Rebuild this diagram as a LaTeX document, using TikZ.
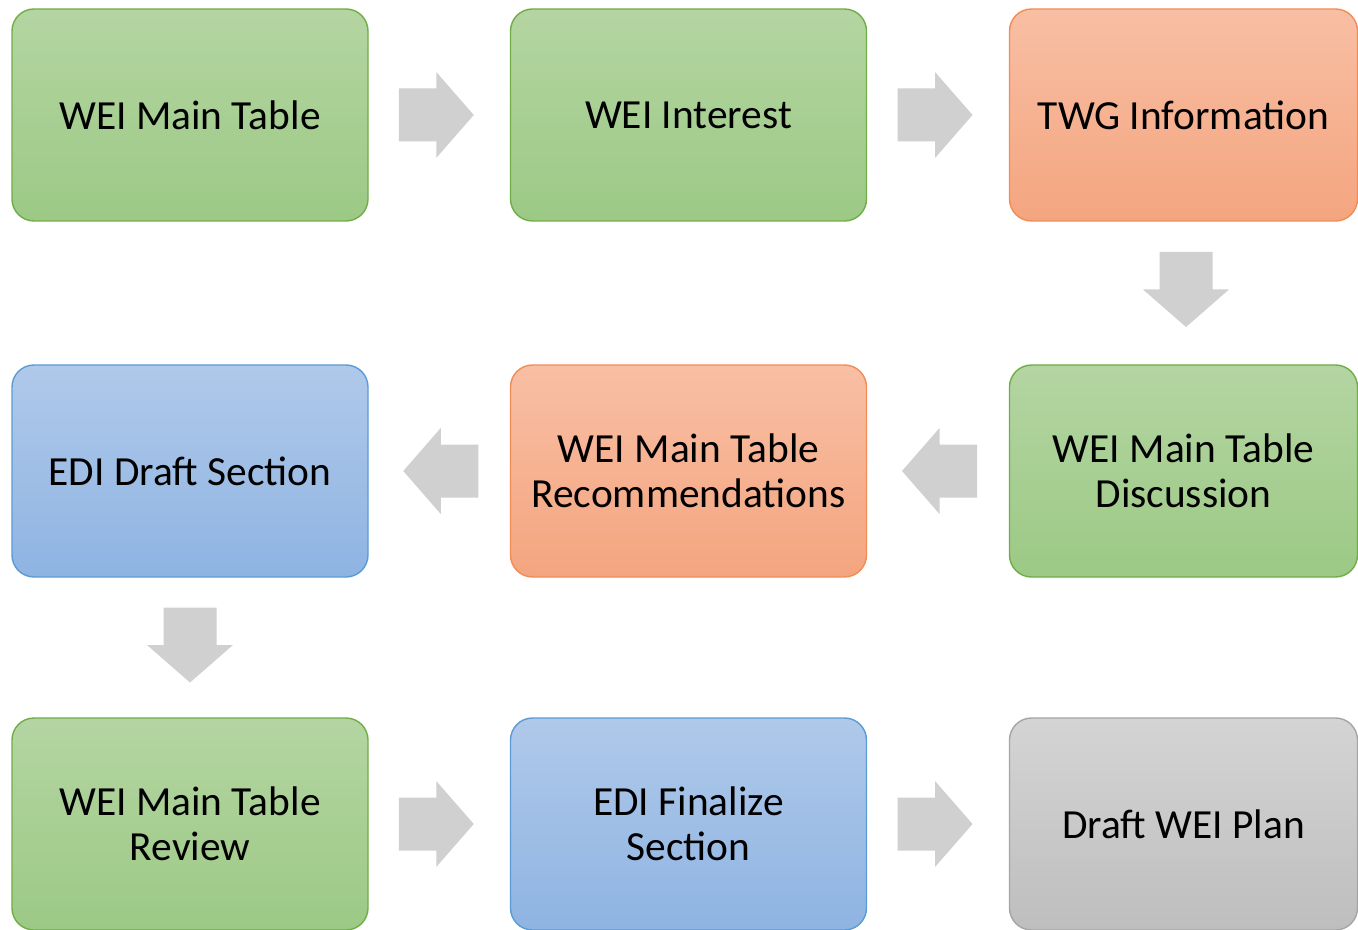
\documentclass[tikz,border=0pt]{standalone}
\usepackage{fontspec}
\setmainfont{Carlito}
\usetikzlibrary{calc}
\definecolor{greentop}{RGB}{180,213,162}
\definecolor{greenbot}{RGB}{156,201,133}
\definecolor{greenline}{RGB}{112,173,71}
\definecolor{orangetop}{RGB}{248,191,164}
\definecolor{orangebot}{RGB}{244,165,127}
\definecolor{orangeline}{RGB}{242,140,84}
\definecolor{bluetop}{RGB}{176,201,234}
\definecolor{bluebot}{RGB}{142,180,226}
\definecolor{blueline}{RGB}{91,155,213}
\definecolor{graytop}{RGB}{212,212,212}
\definecolor{graybot}{RGB}{190,190,190}
\definecolor{grayline}{RGB}{165,165,165}
\definecolor{arrowgray}{RGB}{208,208,208}

\begin{document}
\begin{tikzpicture}[x=0.5pt,y=-0.5pt,
    box/.style={rounded corners=11pt,line width=0.7pt,minimum width=178pt,minimum height=106pt,
        align=center,inner sep=0pt,font=\fontsize{20.7}{22.5}\selectfont},
    greenbox/.style={box,draw=greenline,top color=greentop,bottom color=greenbot},
    orangebox/.style={box,draw=orangeline,top color=orangetop,bottom color=orangebot},
    bluebox/.style={box,draw=blueline,top color=bluetop,bottom color=bluebot},
    graybox/.style={box,draw=grayline,top color=graytop,bottom color=graybot},
    flow/.pic={\fill[arrowgray] (-37.5,-26.5)--(0,-26.5)--(0,-43)--(37.5,0)--(0,43)--(0,26.5)--(-37.5,26.5)--cycle;}]
    \useasboundingbox (0,0) rectangle (1358,930);
    % first row
    \node[greenbox] (wmt) at (190,115) {WEI Main Table};
    \node[greenbox] (wi) at (688.5,115) {WEI Interest};
    \node[orangebox,minimum width=174pt] (twg) at (1183.5,115) {TWG Information};
    % second row
    \node[greenbox,minimum width=174pt] (disc) at (1183.5,471) {WEI Main Table\\Discussion};
    \node[orangebox] (rec) at (688.5,471) {WEI Main Table\\Recommendations};
    \node[bluebox] (edd) at (190,471) {EDI Draft Section};
    % third row
    \node[greenbox] (rev) at (190,824) {WEI Main Table\\Review};
    \node[bluebox] (edf) at (688.5,824) {EDI Finalize\\Section};
    \node[graybox,minimum width=174pt] (plan) at (1183.5,824) {Draft WEI Plan};
    % block arrows
    \pic at ($(wmt.east)!0.5!(wi.west)+(-3,0)$) {flow};
    \pic at ($(wi.east)!0.5!(twg.west)+(-3,0)$) {flow};
    \pic[rotate=-90] at ($(twg.south)!0.5!(disc.north)+(2.5,-3.5)$) {flow};
    \pic[rotate=180] at ($(disc.west)!0.5!(rec.east)+(1.5,0)$) {flow};
    \pic[rotate=180] at ($(rec.west)!0.5!(edd.east)+(1.5,0)$) {flow};
    \pic[rotate=-90] at ($(edd.south)!0.5!(rev.north)+(0,-2.5)$) {flow};
    \pic at ($(rev.east)!0.5!(edf.west)+(-3,0)$) {flow};
    \pic at ($(edf.east)!0.5!(plan.west)+(-3,0)$) {flow};
\end{tikzpicture}
\end{document}
